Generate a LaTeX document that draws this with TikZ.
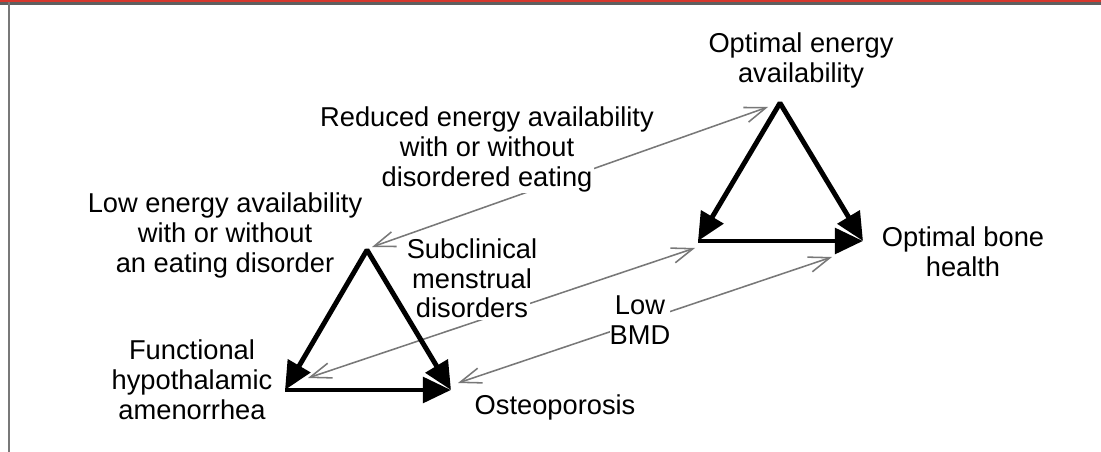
\documentclass[tikz,border=0pt]{standalone}
\usepackage{fontspec}
\setmainfont{Liberation Sans}
\usetikzlibrary{arrows.meta}
\definecolor{barred}{RGB}{215,55,45}
\definecolor{rulegray}{RGB}{95,95,95}
\definecolor{linkgray}{RGB}{120,120,120}
\newcommand{\wl}[1]{{\setlength{\fboxsep}{1pt}\colorbox{white}{#1}}}
\begin{document}
\begin{tikzpicture}[x=0.025cm,y=-0.025cm,
    lbl/.style={align=center,font=\fontsize{19.4pt}{21.3pt}\selectfont,inner sep=0pt},
    heavy/.style={line width=3.5pt,line join=bevel,>={Triangle[length=20pt,width=18pt]}},
    link/.style={linkgray,line width=1.1pt,>={Straight Barb[length=15pt,width=11pt]}}]
        \useasboundingbox (0,0) rectangle (1101,452);
        \fill[barred] (0,0) rectangle (1101,2.5);
        \fill[rulegray] (0,2.5) rectangle (1101,5);
        \draw[linkgray,line width=1.4pt] (9,2.5) -- (9,452);

        \coordinate (lt) at (367,250);
        \coordinate (ll) at (285,390);
        \coordinate (lr) at (451,390);
        \coordinate (rt) at (780,103);
        \coordinate (rl) at (698,241);
        \coordinate (rr) at (863,241);

        \coordinate (g1a) at (372,247);
        \coordinate (g1b) at (768,107);
        \coordinate (g2a) at (308,378);
        \coordinate (g2b) at (695,248);
        \coordinate (g3a) at (458,383);
        \coordinate (g3b) at (832,257);

        \draw[link,<->] (g1a) -- (g1b);
        \draw[link,<->] (g2a) -- (g2b);
        \draw[link,<->] (g3a) -- (g3b);

        \draw[heavy,<->] (ll) -- (lt) -- (lr);
        \draw[heavy,->] (ll) -- (lr);
        \draw[heavy,<->] (rl) -- (rt) -- (rr);
        \draw[heavy,->] (rl) -- (rr);

        \node(optea) at (801,60) [lbl]{Optimal energy\\availability};
        \node(redea) at (487,150) [lbl]{Reduced energy availability\\with or without\\\wl{disordered eating}};
        \node(lowea) at (225,235) [lbl]{Low energy availability\\with or without\\an eating disorder};
        \node(subcl) at (472,279) [lbl]{Subclinical\\menstrual\\\wl{disorders}};
        \node(fha) at (192,380) [lbl]{Functional\\hypothalamic\\amenorrhea};
        \node(lbmd) at (640,320) [lbl,fill=white]{Low\\BMD};
        \node(osteo) at (555,407) [lbl]{Osteoporosis};
        \node(optbh) at (963,252) [lbl]{Optimal bone\\health};
    \end{tikzpicture}
\end{document}
